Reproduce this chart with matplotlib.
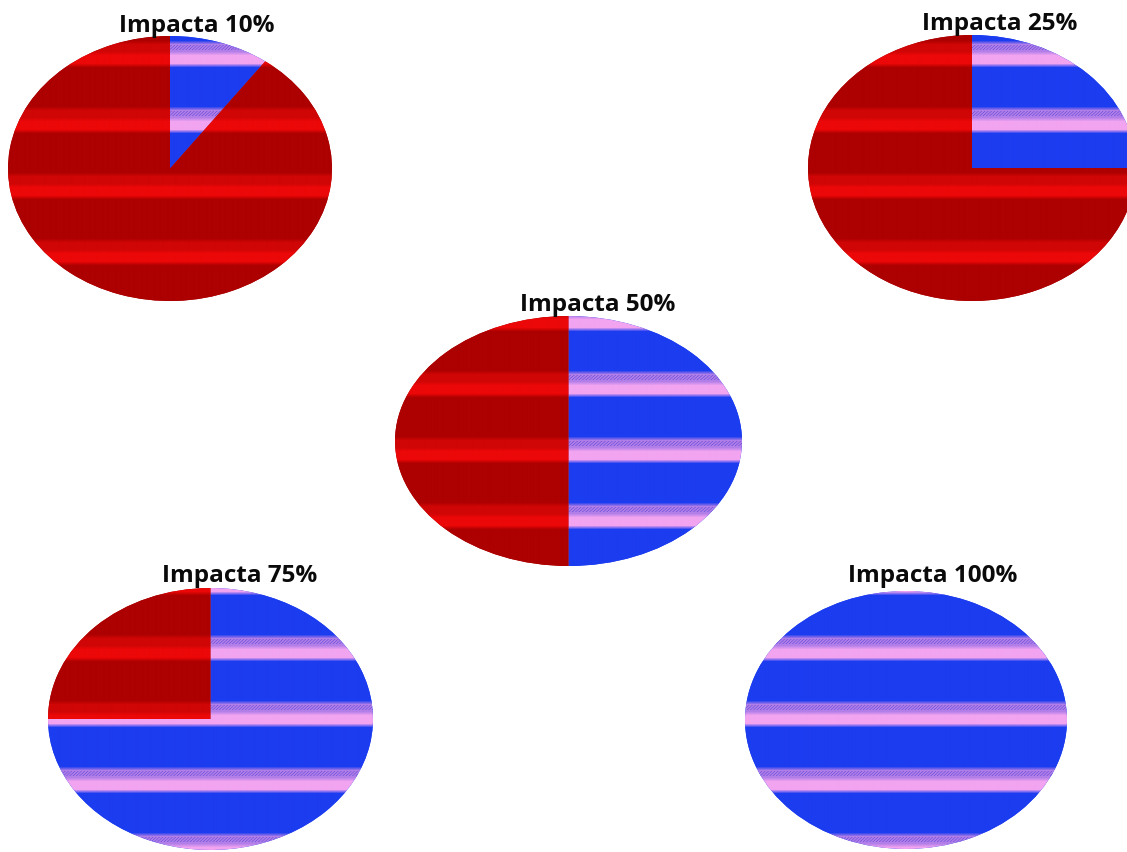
import numpy as np
import matplotlib
matplotlib.use("Agg")
import matplotlib.pyplot as plt
from matplotlib.colors import to_rgb

W, H = 1127, 853

# datos
titulos = ["Impacta 10%", "Impacta 25%", "Impacta 50%", "Impacta 75%", "Impacta 100%"]
impacta = [10, 25, 50, 75, 100]
no_impacta = [100 - v for v in impacta]

# caja de cada elipse en pixeles (izq, arriba, der, abajo) y posicion del titulo
cajas = [(8, 37, 332, 302), (808, 36, 1136, 302), (395, 317, 742, 567),
         (48, 589, 373, 851), (745, 592, 1067, 850)]
pos_titulo = [(197, 32), (1000, 30), (598, 311), (240, 582), (933, 582)]

azul = "#1c3cf0"
rojo = "#ad0000"


def franjas(y0, y1, base, medio, claro, ancho=300, punteado=None):
    # franjas horizontales como en la imagen escaneada
    ys = np.arange(y0, y1)
    fase = (ys - 43) % 66
    col = np.tile(np.array(to_rgb(base)), (len(ys), 1))
    col[fase < 11] = to_rgb(medio)
    col[(fase >= 11) & (fase < 23)] = to_rgb(claro)
    k = np.ones(4) / 4
    for c in range(3):
        col[:, c] = np.convolve(np.pad(col[:, c], (2, 1), mode="edge"), k, mode="valid")
    img = np.repeat(col[:, None, :], ancho, axis=1)
    if punteado is not None:
        # linea punteada morada en el borde de cada franja rosa
        xs = np.arange(ancho)
        filas = np.where((fase >= 3) & (fase < 8))[0]
        for f in filas:
            img[f, (xs + f) % 3 == 0] = to_rgb(punteado)
    return img


fig = plt.figure(figsize=(W / 100, H / 100), dpi=100)
fig.patch.set_facecolor("white")

for i in range(len(impacta)):
    l, t, r, b = cajas[i]
    ax = fig.add_axes([l / W, 1 - b / H, (r - l) / W, (b - t) / H])
    wedges, _ = ax.pie([impacta[i], no_impacta[i]], colors=[azul, rojo],
                       startangle=90, counterclock=False, radius=1,
                       wedgeprops=dict(linewidth=0))
    tex_azul = franjas(t, b, azul, "#b27ee8", "#f2a4f0", punteado="#7458de")
    tex_rojo = franjas(t, b, rojo, "#d00606", "#ec0808")
    for w, tex in zip(wedges, [tex_azul, tex_rojo]):
        im = ax.imshow(tex, extent=(-1, 1, -1, 1), aspect="auto",
                       interpolation="bilinear", zorder=3)
        im.set_clip_path(w)
    ax.set_aspect("auto")
    ax.set_xlim(-1, 1)
    ax.set_ylim(-1, 1)
    ax.axis("off")

for i in range(len(titulos)):
    x, y = pos_titulo[i]
    fig.text(x / W, 1 - y / H, titulos[i], ha="center", va="baseline",
             fontsize=17.5, fontweight="bold", family="Open Sans", color="#0a0a0a",
             zorder=10)

fig.savefig("out.png", dpi=100, facecolor="white")
